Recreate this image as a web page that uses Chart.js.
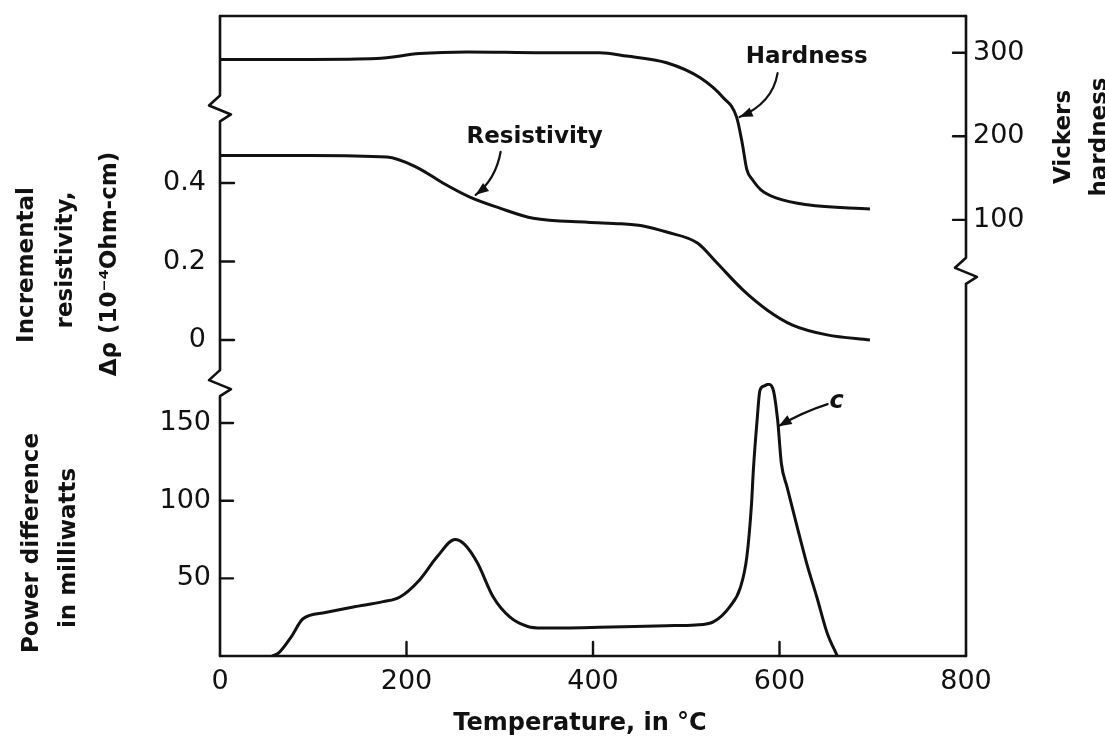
<!DOCTYPE html>
<html><head><meta charset="utf-8">
<script src="https://cdn.jsdelivr.net/npm/chart.js@4.4.1/dist/chart.umd.min.js"></script>
<style>html,body{margin:0;padding:0;background:#fff;}#wrap{width:1105px;height:740px;position:relative;}</style>
</head><body><div id="wrap"><canvas id="c"></canvas></div>
<script>
// ---- data ----
const hardnessT = [0, 97, 168, 214, 265, 346, 407, 436, 479, 515, 539, 554, 560, 565, 571, 580, 597, 630, 697];
const hardnessV = [292, 292, 293, 299, 301, 300, 300, 296, 288, 270, 247, 223, 192, 160, 148, 136, 126, 118, 113];

const resistT = [0, 97, 179, 211, 239, 268, 300, 336, 394, 430, 455, 479, 512, 533, 561, 587, 614, 651, 697];
const resistV = [0.47, 0.47, 0.466, 0.44, 0.40, 0.364, 0.336, 0.31, 0.30, 0.296, 0.29, 0.275, 0.247, 0.196, 0.127, 0.076, 0.038, 0.013, 0.0];

const powerT = [56, 63, 76, 89, 113, 143, 175, 193, 214, 233, 252, 262, 276, 293, 311, 330, 345, 407, 479, 510, 529, 547, 558, 565, 570, 572, 576, 579, 584, 588, 593, 598, 602, 608, 619, 629, 640, 651, 662];
const powerV = [0, 2, 12, 24, 28, 31.6, 35, 38, 49, 64, 75, 72, 60, 38, 25, 19, 18, 18.5, 19.5, 20, 22, 32, 44, 64, 98, 120, 152, 171, 174, 175, 172, 152, 124, 109, 83, 60, 38, 15, 0];

const tempTicks = [0, 200, 400, 600, 800];
const resTicks = [0, 0.2, 0.4];
const powTicks = [50, 100, 150];
const hardTicks = [100, 200, 300];
const leftBreaks = [0.59, -0.11];   // in resistivity units
const rightBreaks = [39];           // in hardness units

const ink = '#111';
const tickFont = {family: 'DejaVu Sans', size: 27};

function pts(xs, ys){ return xs.map((x,i)=>({x:x, y:ys[i]})); }
function setTicks(list){ return function(scale){ scale.ticks = list.map(v=>({value:v})); }; }
function fitW(w){ return function(sc){ sc.width = w; sc.paddingTop = 0; sc.paddingBottom = 0; }; }

function vertWithBreaks(ctx, x, T, B, breaks){
  ctx.beginPath(); ctx.moveTo(x, T);
  for (const y of breaks){
    ctx.lineTo(x, y-13);
    ctx.lineTo(x-11, y-3);
    ctx.lineTo(x+11, y+6);
    ctx.lineTo(x, y+13);
  }
  ctx.lineTo(x, B); ctx.stroke();
}
function vtext(ctx, txt, x, y){
  ctx.save(); ctx.translate(x, y); ctx.rotate(-Math.PI/2);
  ctx.textAlign='center'; ctx.textBaseline='middle'; ctx.fillText(txt, 0, 0); ctx.restore();
}
function arrow(ctx, sx, sy, cx, cy, tx, ty){
  ctx.beginPath(); ctx.moveTo(sx, sy); ctx.quadraticCurveTo(cx, cy, tx, ty); ctx.stroke();
  const ang = Math.atan2(ty-cy, tx-cx), len = 13, w = 5;
  ctx.beginPath();
  ctx.moveTo(tx, ty);
  ctx.lineTo(tx - len*Math.cos(ang) + w*Math.sin(ang), ty - len*Math.sin(ang) - w*Math.cos(ang));
  ctx.lineTo(tx - len*Math.cos(ang) - w*Math.sin(ang), ty - len*Math.sin(ang) + w*Math.cos(ang));
  ctx.closePath(); ctx.fill();
}

const decor = {
  id: 'decor',
  afterDraw(chart){
    const ctx = chart.ctx, a = chart.chartArea, s = chart.scales;
    const L = a.left, R = a.right, T = a.top, B = a.bottom;
    ctx.save();
    ctx.strokeStyle = ink; ctx.fillStyle = ink; ctx.lineCap = 'round'; ctx.lineJoin = 'round';
    ctx.lineWidth = 2.6;
    ctx.beginPath(); ctx.moveTo(L, T); ctx.lineTo(R, T); ctx.moveTo(L, B); ctx.lineTo(R, B); ctx.stroke();
    vertWithBreaks(ctx, L, T, B, leftBreaks.map(v=>s.yRes.getPixelForValue(v)).sort((p,q)=>p-q));
    vertWithBreaks(ctx, R, T, B, rightBreaks.map(v=>s.yHard.getPixelForValue(v)).sort((p,q)=>p-q));
    // inward tick marks
    ctx.lineWidth = 2.4;
    ctx.beginPath();
    resTicks.forEach(v=>{ const y=s.yRes.getPixelForValue(v); ctx.moveTo(L,y); ctx.lineTo(L+14,y); });
    powTicks.forEach(v=>{ const y=s.yPow.getPixelForValue(v); ctx.moveTo(L,y); ctx.lineTo(L+13,y); });
    hardTicks.forEach(v=>{ const y=s.yHard.getPixelForValue(v); ctx.moveTo(R,y); ctx.lineTo(R-13,y); });
    tempTicks.slice(1,-1).forEach(v=>{ const x=s.x.getPixelForValue(v); ctx.moveTo(x,B); ctx.lineTo(x,B-14); });
    ctx.stroke();
    // axis titles
    ctx.font = 'bold 23px "DejaVu Sans"';
    vtext(ctx, 'Incremental', 27, 265);
    vtext(ctx, 'resistivity,', 66, 260);
    vtext(ctx, 'Δρ (10⁻⁴Ohm-cm)', 110, 264);
    vtext(ctx, 'Power difference', 32, 543);
    vtext(ctx, 'in milliwatts', 69, 548);
    vtext(ctx, 'Vickers', 1064, 137);
    vtext(ctx, 'hardness', 1100, 137);
    ctx.font = 'bold 24px "DejaVu Sans"';
    ctx.textAlign = 'center'; ctx.textBaseline = 'middle';
    ctx.fillText('Temperature, in °C', 580, 724);
    // annotations
    ctx.lineWidth = 2.2;
    let tx = s.x.getPixelForValue(554), ty = s.yHard.getPixelForValue(223);
    ctx.font = 'bold 23px "DejaVu Sans"';
    ctx.fillText('Hardness', tx+70, ty-60);
    arrow(ctx, tx+41, ty-44, tx+36, ty-14, tx+3, ty);
    tx = s.x.getPixelForValue(272); ty = s.yRes.getPixelForValue(0.37);
    ctx.fillText('Resistivity', tx+61, ty-58);
    arrow(ctx, tx+27, ty-43, tx+22, ty-15, tx+2, ty);
    tx = s.x.getPixelForValue(598); ty = s.yPow.getPixelForValue(148);
    ctx.font = 'italic bold 24px "DejaVu Sans"';
    ctx.fillText('c', tx+59, ty-24);
    arrow(ctx, tx+50, ty-22, tx+25, ty-14, tx+1, ty);
    ctx.restore();
  }
};

const line = (data, axis) => ({
  data: data, yAxisID: axis, borderColor: ink, borderWidth: 3, pointRadius: 0,
  fill: false, cubicInterpolationMode: 'monotone'
});

new Chart(document.getElementById('c'), {
  type: 'line',
  data: { datasets: [
    line(pts(hardnessT, hardnessV), 'yHard'),
    line(pts(resistT, resistV), 'yRes'),
    line(pts(powerT, powerV), 'yPow')
  ]},
  options: {
    responsive: true, maintainAspectRatio: false, animation: false,
    layout: { padding: { top: 16, left: 0, right: 0, bottom: 0 } },
    plugins: { legend: { display: false }, tooltip: { enabled: false } },
    scales: {
      x: {
        type: 'linear', min: 0, max: 800,
        afterBuildTicks: setTicks(tempTicks),
        afterFit: sc => { sc.height = 84; },
        grid: { display: false, drawTicks: false }, border: { display: false },
        ticks: { font: tickFont, color: ink, padding: 10, maxRotation: 0 }
      },
      yRes: {
        type: 'linear', position: 'left', stack: 'left', stackWeight: 367, weight: 2,
        min: -0.1096, max: 0.8255,
        afterBuildTicks: setTicks(resTicks),
        afterFit: fitW(220),
        grid: { display: false, drawTicks: false }, border: { display: false },
        ticks: { font: tickFont, color: ink, padding: 14, callback: v => String(v) }
      },
      yPow: {
        type: 'linear', position: 'left', stack: 'left', stackWeight: 273, weight: 1,
        min: 0, max: 175.8,
        afterBuildTicks: setTicks(powTicks),
        afterFit: fitW(220),
        grid: { display: false, drawTicks: false }, border: { display: false },
        ticks: { font: tickFont, color: ink, padding: 9, callback: v => String(v) }
      },
      yHard: {
        type: 'linear', position: 'right', min: -422, max: 344,
        afterBuildTicks: setTicks(hardTicks),
        afterFit: fitW(139),
        grid: { display: false, drawTicks: false }, border: { display: false },
        ticks: { font: tickFont, color: ink, padding: 7, callback: v => String(v) }
      }
    }
  },
  plugins: [decor]
});
</script></body></html>
